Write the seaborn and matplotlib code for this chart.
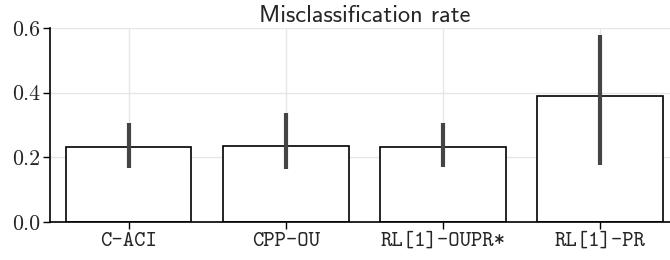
import numpy as np
import pandas as pd
import matplotlib
matplotlib.use("Agg")
import matplotlib.pyplot as plt
import seaborn as sns

# datos
metodos = ["C-ACI", "CPP-OU", "RL[1]-OUPR*", "RL[1]-PR"]
tasa = [0.233, 0.235, 0.233, 0.390]
err_bajo = [0.166, 0.163, 0.171, 0.176]
err_alto = [0.307, 0.338, 0.307, 0.578]
yticks = [0.0, 0.2, 0.4, 0.6]

df = pd.DataFrame({"metodo": metodos, "tasa": tasa})

sns.set_theme(style="whitegrid")
plt.rcParams["mathtext.fontset"] = "cm"

fig = plt.figure(figsize=(6.7, 2.6), dpi=100)
ax = fig.add_axes([50 / 670, 38 / 260, 628.5 / 670, 194 / 260])

sns.barplot(data=df, x="metodo", y="tasa", color="white", edgecolor="black",
            linewidth=1.2, errorbar=None, width=0.8, ax=ax)
ax.vlines(range(len(metodos)), err_bajo, err_alto, color="#444444", linewidth=3, zorder=3)

ax.set_xlim(-0.5, 3.5)
ax.set_ylim(0, 0.6)
ax.set_yticks(yticks)
ax.set_yticklabels([f"{v:.1f}" for v in yticks], fontfamily="cmr10", fontsize=15.8)
ax.set_xticks(range(len(metodos)))
ax.set_xticklabels(metodos, fontfamily="cmtt10", fontsize=15.6)
ax.set_xlabel("")
ax.set_ylabel("")
ax.set_title("Misclassification rate", fontfamily="cmss10", fontsize=17.5, pad=4)

ax.grid(True, color="#e6e6e6", linewidth=1)
ax.set_axisbelow(True)
for s in ["top", "right"]:
    ax.spines[s].set_visible(False)
for s in ["left", "bottom"]:
    ax.spines[s].set_color("black")
    ax.spines[s].set_linewidth(1.2)
ax.tick_params(axis="both", which="both", direction="out", length=5, width=1,
               color="black", left=True, bottom=True, pad=2)

fig.savefig("out.png", dpi=100)
